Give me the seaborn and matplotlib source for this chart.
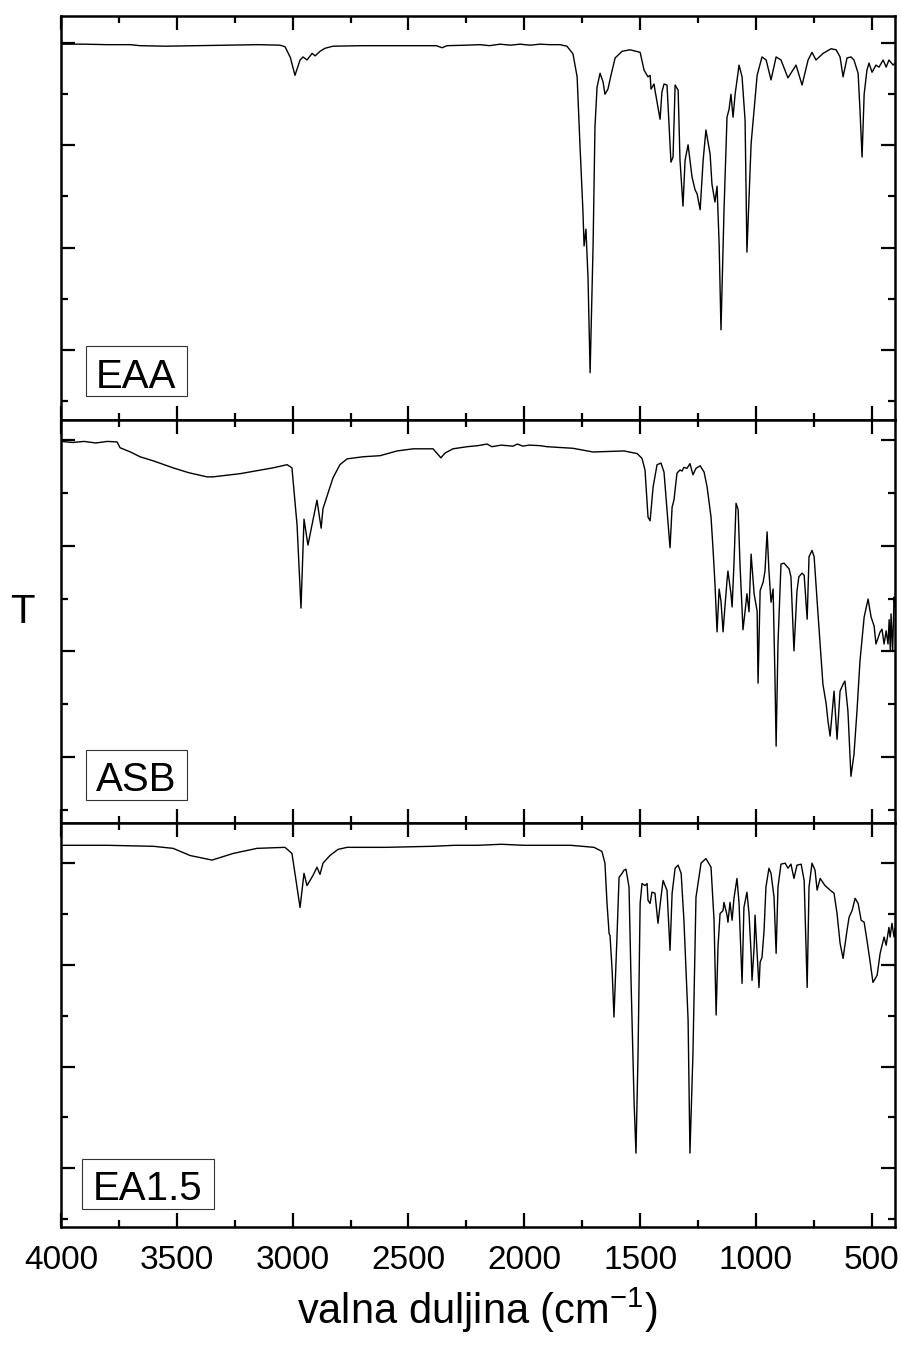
import numpy as np
import pandas as pd
import matplotlib
matplotlib.use("Agg")
import matplotlib.pyplot as plt
from matplotlib.patches import Rectangle
from matplotlib.ticker import MultipleLocator
import seaborn as sns

# IR spectra (wavenumber in cm-1, transmittance in arbitrary %)
eaa_wn = [4000, 3900, 3800, 3700, 3659, 3550, 3413, 3300, 3150, 3055,
          3033, 3010, 2990, 2968, 2955, 2938, 2916, 2903, 2882, 2860,
          2826, 2700, 2500, 2380, 2355, 2334, 2250, 2191, 2150, 2105,
          2060, 2019, 1975, 1932, 1890, 1846, 1816, 1790, 1772, 1760,
          1747, 1742, 1734, 1725, 1716, 1703, 1695, 1686, 1673, 1660,
          1652, 1639, 1626, 1608, 1578, 1544, 1500, 1483, 1466, 1457,
          1453, 1440, 1436, 1414, 1406, 1397, 1384, 1367, 1358, 1349,
          1336, 1328, 1315, 1306, 1293, 1276, 1263, 1254, 1241, 1228,
          1216, 1198, 1190, 1177, 1168, 1159, 1151, 1138, 1125, 1116,
          1108, 1099, 1090, 1073, 1060, 1047, 1039, 1021, 1008, 995,
          974, 956, 935, 913, 892, 862, 827, 801, 775, 758,
          741, 710, 676, 654, 637, 624, 607, 590, 577, 559,
          551, 542, 533, 521, 512, 499, 482, 469, 451, 438,
          426, 408, 400]
eaa_t = [99.8, 99.8, 99.7, 99.7, 99.5, 99.4, 99.5, 99.6, 99.7, 99.6,
         99.3, 97.2, 93.7, 96.7, 97.3, 96.7, 98.0, 97.5, 98.4, 99.0,
         99.4, 99.5, 99.5, 99.5, 99.1, 99.5, 99.6, 99.7, 99.5, 99.8,
         99.6, 99.8, 99.6, 99.8, 99.7, 99.7, 99.4, 97.9, 93.4, 80.3,
         67.2, 60.3, 63.6, 54.1, 35.5, 60.7, 83.6, 91.4, 94.1, 92.4,
         90.0, 91.0, 93.7, 97.1, 98.4, 98.7, 98.2, 94.7, 93.4, 93.7,
         91.0, 92.0, 90.8, 85.1, 90.4, 92.0, 91.8, 76.7, 77.7, 91.8,
         90.8, 77.1, 68.1, 77.1, 80.1, 73.8, 71.3, 70.5, 67.4, 77.1,
         83.0, 78.3, 72.4, 68.9, 72.0, 60.7, 43.9, 67.2, 85.5, 87.1,
         90.0, 85.5, 90.0, 95.7, 93.4, 84.9, 59.1, 80.3, 86.9, 93.7,
         97.3, 96.7, 92.8, 97.3, 96.7, 93.2, 95.7, 91.8, 96.7, 98.2,
         96.7, 98.0, 98.9, 98.7, 97.3, 93.4, 97.1, 97.3, 96.7, 94.1,
         86.9, 77.7, 90.0, 94.7, 96.1, 94.3, 95.7, 95.3, 96.7, 95.3,
         96.7, 95.7, 96.1]

asb_wn = [4000, 3950, 3900, 3850, 3800, 3758, 3745, 3700, 3659, 3600,
          3516, 3450, 3370, 3344, 3227, 3085, 3024, 3003, 2981, 2964,
          2951, 2934, 2895, 2877, 2869, 2847, 2826, 2796, 2765, 2696,
          2623, 2549, 2480, 2394, 2372, 2360, 2342, 2308, 2247, 2200,
          2161, 2140, 2100, 2049, 2030, 2006, 1980, 1932, 1902, 1790,
          1703, 1570, 1513, 1492, 1479, 1466, 1457, 1444, 1427, 1410,
          1397, 1384, 1371, 1362, 1354, 1341, 1328, 1319, 1311, 1298,
          1285, 1272, 1259, 1241, 1224, 1211, 1194, 1185, 1177, 1168,
          1159, 1151, 1142, 1134, 1125, 1121, 1108, 1103, 1095, 1086,
          1077, 1069, 1056, 1047, 1039, 1030, 1021, 1008, 995, 991,
          982, 969, 961, 952, 944, 935, 926, 918, 913, 905,
          892, 879, 857, 849, 836, 823, 815, 801, 792, 779,
          771, 758, 749, 733, 711, 697, 689, 680, 663, 650,
          637, 624, 616, 603, 590, 577, 564, 551, 533, 516,
          503, 490, 482, 464, 456, 447, 438, 430, 425, 420,
          417, 410, 404, 400]
asb_t = [99.7, 99.5, 99.7, 99.4, 99.7, 99.6, 98.5, 97.7, 96.8, 96.0,
         94.7, 93.8, 93.0, 93.0, 93.6, 94.7, 95.3, 94.7, 83.9, 68.2,
         85.0, 80.1, 88.6, 83.3, 87.0, 90.0, 92.8, 95.3, 96.4, 96.8,
         97.0, 97.9, 98.3, 98.3, 97.2, 96.6, 97.5, 98.3, 98.7, 98.9,
         99.2, 98.7, 99.0, 98.8, 99.2, 98.8, 99.0, 98.9, 98.7, 98.4,
         97.7, 97.9, 97.4, 96.5, 94.3, 85.4, 84.7, 91.1, 95.3, 95.6,
         93.9, 86.8, 79.6, 87.3, 88.6, 93.7, 94.3, 94.1, 94.8, 94.6,
         95.5, 93.4, 94.6, 95.1, 93.9, 91.1, 85.4, 79.1, 72.8, 63.7,
         71.8, 69.5, 63.7, 68.4, 73.4, 75.2, 70.9, 68.4, 76.5, 88.0,
         86.8, 76.5, 64.1, 67.6, 70.9, 67.5, 78.4, 70.9, 67.6, 54.0,
         71.5, 73.1, 75.2, 82.6, 75.2, 69.3, 71.8, 55.0, 42.1, 61.4,
         76.5, 76.7, 75.6, 74.1, 60.1, 71.4, 74.1, 74.8, 74.4, 66.1,
         77.9, 79.1, 77.9, 67.6, 53.8, 50.1, 46.8, 44.0, 52.5, 43.4,
         52.5, 53.8, 54.4, 48.7, 36.4, 40.5, 48.7, 58.2, 66.5, 69.9,
         66.5, 64.8, 61.4, 63.7, 64.2, 61.4, 63.9, 61.4, 66.0, 60.0,
         67.1, 60.0, 70.3, 68.4]

ea15_wn = [4000, 3800, 3600, 3516, 3443, 3348, 3257, 3154, 3033, 3003,
           2981, 2968, 2951, 2938, 2912, 2895, 2882, 2869, 2839, 2804,
           2765, 2600, 2400, 2300, 2200, 2100, 2000, 1900, 1800, 1699,
           1665, 1652, 1643, 1634, 1630, 1621, 1613, 1600, 1591, 1578,
           1570, 1561, 1548, 1539, 1526, 1518, 1509, 1500, 1492, 1479,
           1470, 1466, 1457, 1449, 1436, 1423, 1410, 1401, 1388, 1384,
           1371, 1362, 1349, 1336, 1323, 1311, 1293, 1285, 1272, 1259,
           1237, 1216, 1194, 1181, 1172, 1164, 1155, 1142, 1138, 1125,
           1121, 1112, 1103, 1095, 1082, 1073, 1060, 1052, 1039, 1030,
           1021, 1017, 1008, 1004, 995, 987, 982, 974, 965, 957,
           944, 935, 922, 913, 905, 892, 874, 862, 849, 836,
           823, 805, 792, 779, 771, 758, 745, 736, 723, 702,
           680, 663, 650, 637, 624, 607, 598, 585, 572, 559,
           546, 533, 521, 508, 495, 477, 464, 447, 438, 426,
           421, 413, 404, 400]
ea15_t = [103.4, 103.4, 103.2, 102.8, 101.4, 100.5, 101.8, 102.8, 103.0, 101.8,
          95.2, 91.2, 97.9, 95.5, 97.5, 99.1, 97.7, 99.9, 101.4, 102.6,
          103.0, 103.0, 103.2, 103.4, 103.4, 103.6, 103.4, 103.4, 103.4, 103.0,
          102.2, 99.9, 92.0, 86.1, 85.7, 78.9, 69.7, 85.4, 97.1, 97.9,
          98.5, 98.7, 95.2, 76.3, 52.8, 43.0, 62.6, 92.0, 95.9, 95.5,
          95.9, 92.6, 92.0, 94.2, 94.0, 88.1, 93.2, 96.5, 95.0, 94.6,
          82.8, 94.0, 98.9, 99.5, 97.9, 88.7, 69.1, 43.0, 62.6, 93.2,
          99.9, 100.8, 99.1, 88.7, 70.1, 83.4, 90.0, 90.6, 92.2, 89.7,
          88.3, 92.2, 88.7, 93.0, 96.9, 92.0, 76.3, 91.2, 94.2, 90.0,
          82.2, 76.9, 83.4, 89.7, 82.2, 75.5, 80.5, 81.4, 86.7, 95.2,
          98.9, 97.9, 93.2, 82.2, 95.2, 99.7, 99.9, 98.9, 99.7, 96.9,
          99.5, 99.7, 96.5, 75.5, 95.2, 99.9, 98.5, 94.6, 96.9, 95.5,
          94.6, 94.0, 90.0, 84.2, 81.2, 86.7, 89.3, 90.6, 93.0, 92.0,
          88.7, 88.3, 84.8, 80.8, 76.5, 77.9, 82.2, 85.4, 83.8, 87.3,
          85.4, 88.1, 85.4, 87.1]

labels = ["EAA", "ASB", "EA1.5"]
x_ticks = [4000, 3500, 3000, 2500, 2000, 1500, 1000, 500]

sns.set_style("ticks")
plt.rcParams["font.family"] = ["Liberation Sans", "DejaVu Sans"]
plt.rcParams["mathtext.fontset"] = "custom"
plt.rcParams["mathtext.rm"] = "Liberation Sans"
plt.rcParams["mathtext.it"] = "Liberation Sans"
plt.rcParams["text.color"] = "black"
plt.rcParams["axes.labelcolor"] = "black"
plt.rcParams["xtick.color"] = "black"
plt.rcParams["ytick.color"] = "black"

fig, axes = plt.subplots(3, 1, figsize=(9.01, 13.49), dpi=100, sharex=True)
fig.subplots_adjust(left=0.0677, right=0.9933, top=0.9881, bottom=0.0904, hspace=0)

spectra = [(eaa_wn, eaa_t), (asb_wn, asb_t), (ea15_wn, ea15_t)]
ylims = [(26.3, 105.3), (27.5, 103.8), (28.5, 107.7)]
# label box (x0, y0, x1, y1) in axes fraction, text baseline
boxes = [(0.030, 0.059, 0.151, 0.183, 0.079),
         (0.030, 0.057, 0.151, 0.181, 0.079),
         (0.025, 0.045, 0.1835, 0.168, 0.067)]

for ax, (wn, t), ylim, name, box in zip(axes, spectra, ylims, labels, boxes):
    df = pd.DataFrame({"wn": wn, "T": t})
    sns.lineplot(data=df, x="wn", y="T", ax=ax, color="black", lw=1.0,
                 sort=False, estimator=None)
    ax.set_xlim(4000, 400)
    ax.set_ylim(*ylim)
    ax.xaxis.set_major_locator(MultipleLocator(500))
    ax.xaxis.set_minor_locator(MultipleLocator(250))
    ax.yaxis.set_major_locator(MultipleLocator(20))
    ax.yaxis.set_minor_locator(MultipleLocator(10))
    ax.tick_params(which="both", direction="in", top=True, right=True,
                   width=1.6, labelleft=False, color="black")
    ax.tick_params(which="major", length=10)
    ax.tick_params(which="minor", length=5)
    ax.set_xlabel("")
    ax.set_ylabel("")
    for s in ax.spines.values():
        s.set_linewidth(1.8)
        s.set_color("black")
    x0, y0, x1, y1, yb = box
    ax.add_patch(Rectangle((x0, y0), x1 - x0, y1 - y0, transform=ax.transAxes,
                           fill=False, ec="#333333", lw=0.8))
    ax.text((x0 + x1) / 2, yb, name, transform=ax.transAxes, ha="center",
            va="baseline", fontsize=29, color="black")

axes[-1].set_xticks(x_ticks)
axes[-1].set_xticklabels([str(v) for v in x_ticks])
axes[-1].tick_params(axis="x", labelsize=24, pad=13, labelcolor="black")

fig.text(0.530, 0.029, "valna duljina (cm$^{-1}$)", ha="center", va="center",
         fontsize=30, color="black")
fig.text(22 / 901, 1 - 612 / 1349, "T", ha="center", va="center", fontsize=29,
         color="black")

fig.savefig("out.png", dpi=100)
